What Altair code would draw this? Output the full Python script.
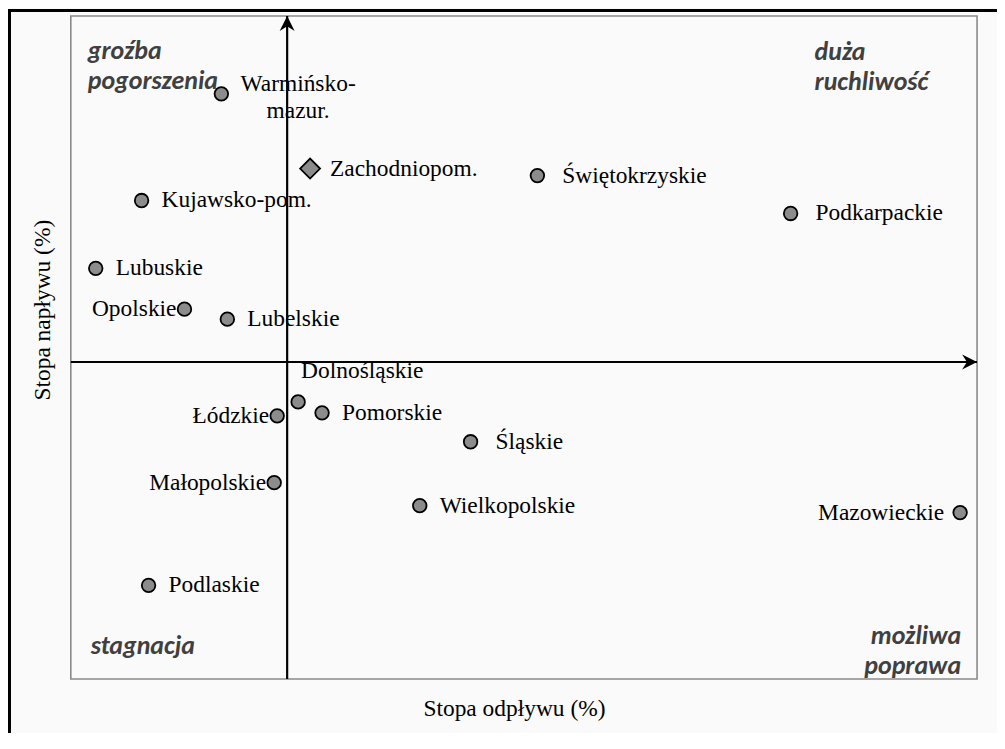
import altair as alt
import pandas as pd

# --- data (arbitrary units, axes cross at 0,0) ---
wojewodztwa = ["Warmińsko-\nmazur.", "Zachodniopom.", "Świętokrzyskie", "Podkarpackie",
               "Kujawsko-pom.", "Lubuskie", "Opolskie", "Lubelskie", "Dolnośląskie",
               "Łódzkie", "Pomorskie", "Śląskie", "Małopolskie", "Wielkopolskie",
               "Mazowieckie", "Podlaskie"]
stopa_odplywu = [-0.66, 0.23, 2.51, 5.05, -1.46, -1.92, -1.03, -0.60, 0.11,
                 -0.10, 0.35, 1.84, -0.13, 1.33, 6.75, -1.39]
stopa_naplywu = [2.69, 1.94, 1.87, 1.49, 1.62, 0.94, 0.53, 0.43, -0.40,
                 -0.54, -0.51, -0.80, -1.21, -1.44, -1.51, -2.24]
ksztalt = ["circle", "diamond"] + ["circle"] * 14
pozycja = ["w", "r", "r2", "r2", "r", "r", "l", "r", "a", "l", "r", "r2", "l", "r", "lf", "r"]

cwiartki = ["groźba\npogorszenia", "duża\nruchliwość", "stagnacja", "możliwa\npoprawa"]
tytul_x = "Stopa odpływu (%)"
tytul_y = "Stopa napływu (%)"

X_MIN, X_MAX = -2.17, 6.92
Y_MIN, Y_MAX = -3.18, 3.47

df = pd.DataFrame({"woj": wojewodztwa, "x": stopa_odplywu, "y": stopa_naplywu,
                   "ksztalt": ksztalt, "poz": pozycja})

xs = alt.Scale(domain=[X_MIN, X_MAX], nice=False, zero=False)
ys = alt.Scale(domain=[Y_MIN, Y_MAX], nice=False, zero=False)
X = alt.X("x:Q", scale=xs, axis=None)
Y = alt.Y("y:Q", scale=ys, axis=None)

base = alt.Chart(df)
SERIF = "Liberation Serif"
FS = 23.5
TXT = "#000000"

def lab(poz, **kw):
    return base.transform_filter(alt.datum.poz == poz).mark_text(
        font=SERIF, fontSize=FS, color=TXT, lineBreak="\n", **kw
    ).encode(x=X, y=Y, text="woj:N")

labels = [
    lab("r", align="left", baseline="middle", dx=20),
    lab("r2", align="left", baseline="middle", dx=25),
    lab("l", align="right", baseline="middle", dx=-8),
    lab("lf", align="right", baseline="middle", dx=-16),
    lab("a", align="left", baseline="alphabetic", dx=3, dy=-24),
    lab("w", align="center", baseline="alphabetic", dx=77, dy=-3, lineHeight=27),
]

one = alt.Chart(pd.DataFrame({"a": [0]}))

h_rule = one.mark_rule(color="black", strokeWidth=2.2).encode(
    x=alt.X(datum=X_MIN, scale=xs, axis=None), x2=alt.datum(X_MAX),
    y=alt.Y(datum=0, scale=ys, axis=None))
v_rule = one.mark_rule(color="black", strokeWidth=2.2).encode(
    x=alt.X(datum=0, scale=xs, axis=None),
    y=alt.Y(datum=Y_MIN, scale=ys, axis=None), y2=alt.datum(Y_MAX))
h_arrow = one.mark_point(shape="M0,0 L-2,-1 L-1.35,0 L-2,1 Z", filled=True,
                         color="black", opacity=1, size=225).encode(
    x=alt.X(datum=X_MAX, scale=xs, axis=None), y=alt.Y(datum=0, scale=ys, axis=None))
v_arrow = one.mark_point(shape="M0,0 L-1,2 L0,1.35 L1,2 Z", filled=True,
                         color="black", opacity=1, size=225).encode(
    x=alt.X(datum=0, scale=xs, axis=None), y=alt.Y(datum=Y_MAX, scale=ys, axis=None))

circles = base.transform_filter(alt.datum.ksztalt == "circle").mark_point(
    shape="circle", filled=True, fill="#8c8c8c", stroke="black", strokeWidth=1.8,
    opacity=1, size=185).encode(x=X, y=Y)
diamonds = base.transform_filter(alt.datum.ksztalt == "diamond").mark_point(
    shape="diamond", filled=True, fill="#8c8c8c", stroke="black", strokeWidth=1.8,
    opacity=1, size=400).encode(x=X, y=Y)

QFONT = dict(font="Carlito", fontStyle="italic", fontWeight="bold", fontSize=26,
             color="#404040", lineBreak="\n", lineHeight=30, baseline="alphabetic")
q1 = one.mark_text(align="left", text=cwiartki[0], **QFONT).encode(x=alt.value(17), y=alt.value(43))
q2 = one.mark_text(align="left", text=cwiartki[1], **QFONT).encode(x=alt.value(746), y=alt.value(44))
q3 = one.mark_text(align="left", text=cwiartki[2], **QFONT).encode(x=alt.value(20), y=alt.value(640))
q4 = one.mark_text(align="right", text=cwiartki[3], **QFONT).encode(x=alt.value(893), y=alt.value(630))

tx = one.mark_text(text=tytul_x, font=SERIF, fontSize=FS, color=TXT,
                   align="center", baseline="alphabetic").encode(x=alt.value(445), y=alt.value(702))
ty = one.mark_text(text=tytul_y, font=SERIF, fontSize=FS, color=TXT, angle=270,
                   align="center", baseline="alphabetic").encode(x=alt.value(-21), y=alt.value(295))

border = one.mark_rect(fillOpacity=0, stroke="black", strokeWidth=3).encode(
    x=alt.value(-61.5), y=alt.value(-5.5), x2=alt.value(1000), y2=alt.value(800))

chart = alt.layer(
    border, q1, q2, q3, q4, tx, ty, *labels, h_rule, v_rule, h_arrow, v_arrow, circles, diamonds
).properties(
    width=909, height=665,
    autosize=alt.AutoSizeParams(type="none"),
    padding={"left": 63, "top": 7, "right": 20, "bottom": 53},
    background="#fafafa",
).configure_view(stroke="#8a8a8a", strokeWidth=1.6)

chart.save("out.html", embed_options={"renderer": "svg", "actions": False})
